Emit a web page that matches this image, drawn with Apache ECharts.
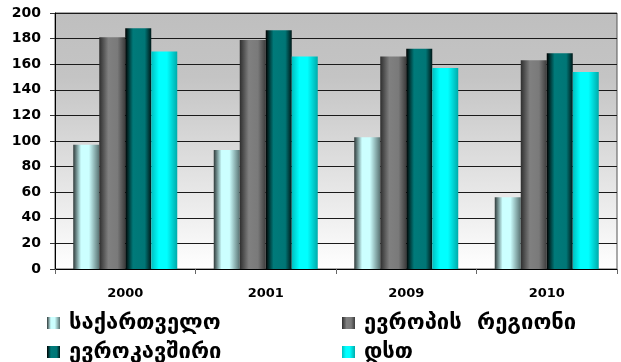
<!DOCTYPE html>
<html>
<head>
<meta charset="utf-8">
<script src="https://cdn.jsdelivr.net/npm/echarts@6/dist/echarts.min.js"></script>
<style>
  html, body { margin: 0; padding: 0; background: #fff; }
  #chart { width: 621px; height: 362px; }
</style>
</head>
<body>
<div id="chart"></div>
<script>
const years = ['2000', '2001', '2009', '2010']
const seriesNames = ['საქართველო', 'ევროპის  რეგიონი', 'ევროკავშირი', 'დსთ']

const georgia = [97, 93, 103, 56]
const euroRegion = [181, 179, 166, 163]
const euroUnion = [188, 186.5, 172, 168.5]
const cis = [170, 166, 157, 154]

const yTicks = { min: 0, max: 200, interval: 20 }

// horizontal gradient, gives the bars a cylinder look
const shade = (stops) => new echarts.graphic.LinearGradient(0, 0, 1, 0,
  stops.map(([offset, color]) => ({ offset, color })))

const colors = [
  shade([[0, '#2f3a3a'], [0.3, '#ccffff'], [0.6, '#ccffff'], [1, '#5a7373']]),
  shade([[0, '#2e2e2e'], [0.35, '#808080'], [0.7, '#7a7a7a'], [1, '#3c3c3c']]),
  shade([[0, '#000000'], [0.3, '#007a7a'], [0.75, '#007676'], [1, '#001818']]),
  shade([[0, '#00bfbf'], [0.3, '#00ffff'], [0.6, '#00ffff'], [1, '#00aaaa']])
]

const font = 'DejaVu Sans'

// legend slots: [series index, left, top]
const legendSlots = [[0, 47, 312], [1, 342, 312], [2, 47, 341], [3, 342, 341]]

const chart = echarts.init(document.getElementById('chart'))

const makeBar = (name, data, i) => ({
  name,
  type: 'bar',
  data,
  barWidth: 26,
  barGap: '0%',
  itemStyle: { color: colors[i] },
  emphasis: { disabled: true }
})

chart.setOption({
  backgroundColor: '#fff',
  animation: false,
  grid: {
    left: 55,
    right: 4,
    top: 13,
    bottom: 93,
    show: true,
    borderColor: '#555',
    borderWidth: 1,
    backgroundColor: new echarts.graphic.LinearGradient(0, 0, 0, 1, [
      { offset: 0, color: '#bfbfbf' },
      { offset: 0.25, color: '#c4c4c4' },
      { offset: 1, color: '#ffffff' }
    ])
  },
  legend: legendSlots.map(([i, left, top]) => ({
    data: [seriesNames[i]],
    left,
    top,
    padding: 0,
    itemWidth: 13,
    itemHeight: 12,
    icon: 'rect',
    textStyle: {
      fontFamily: font, fontWeight: 'bold', fontSize: 22, color: '#000',
      padding: [0, 0, 0, 4]
    }
  })),
  xAxis: {
    type: 'category',
    data: years,
    axisLine: { lineStyle: { color: '#000', width: 1 } },
    axisTick: { show: true, length: 5, lineStyle: { color: '#666' } },
    axisLabel: { margin: 18, fontFamily: font, fontWeight: 'bold', fontSize: 13, color: '#000' }
  },
  yAxis: {
    type: 'value',
    min: yTicks.min,
    max: yTicks.max,
    interval: yTicks.interval,
    axisLine: { show: true, lineStyle: { color: '#000', width: 1 } },
    axisTick: { show: true, length: 5, lineStyle: { color: '#333' } },
    axisLabel: { margin: 14, fontFamily: font, fontWeight: 'bold', fontSize: 14, color: '#000' },
    splitLine: { lineStyle: { color: '#1a1a1a', width: 1 } }
  },
  series: [
    makeBar(seriesNames[0], georgia, 0),
    makeBar(seriesNames[1], euroRegion, 1),
    makeBar(seriesNames[2], euroUnion, 2),
    makeBar(seriesNames[3], cis, 3)
  ]
})
</script>
</body>
</html>
